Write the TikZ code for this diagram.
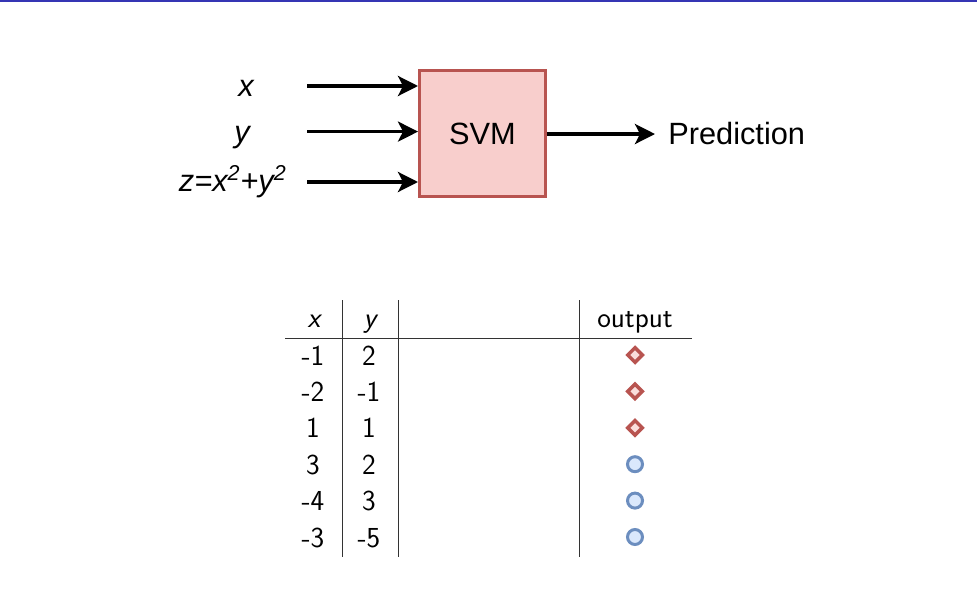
\documentclass[tikz,border=0pt]{standalone}
\usepackage{fontspec}
\newfontfamily\helv{Liberation Sans}
\usetikzlibrary{arrows.meta,shapes.geometric,positioning,calc}
\definecolor{svmfyll}{HTML}{F8CECC}
\definecolor{svmlinje}{HTML}{B85450}
\definecolor{blafyll}{HTML}{DAE8FC}
\definecolor{blalinje}{HTML}{6C8EBF}
\definecolor{topplinje}{HTML}{3535B4}
\tikzset{
  %Define standard arrow tip
  >={Stealth[length=0.4cm,width=0.4cm,inset=0.1cm]},
  %Define style for the SVM box
  boks/.style={
    rectangle,
    draw=svmlinje, fill=svmfyll, line width=0.06cm,
    minimum width=2.52cm,
    minimum height=2.52cm,
    font=\helv\fontsize{17.5}{20}\selectfont},
  % Define arrow style
  pil/.style={
    ->,
    line width=0.07cm},
  % labels round the box
  tekst/.style={font=\helv\itshape\fontsize{17.5}{20}\selectfont, inner sep=0pt, anchor=base},
  % table text
  celle/.style={font=\sffamily\fontsize{16.5}{19}\selectfont, inner sep=0pt, anchor=base},
  % output markers
  rombe/.style={diamond, draw=svmlinje, fill=svmfyll!70, line width=0.07cm, inner sep=0pt, minimum size=0.32cm},
  sirkel/.style={circle, draw=blalinje, fill=blafyll, line width=0.06cm, inner sep=0pt, minimum size=0.3cm}
}
\begin{document}
\begin{tikzpicture}[x=0.02cm,y=-0.02cm]
  \useasboundingbox (0,0) rectangle (977,608);
  \draw[topplinje, line width=0.04cm] (0,1) -- (977,1);
  % inputs, box and output
  \node[boks] (svm) at (482.5,133.5) {SVM};
  \node[tekst] (xlab) at (246,97) {x};
  \node[tekst] (ylab) at (242,143) {y};
  \node[tekst, anchor=base east] (zlab) at (287,192) {z=x\textsuperscript{2}+y\textsuperscript{2}};
  \coordinate (xin) at (307,86);
  \coordinate (yin) at (307,131.6);
  \coordinate (zin) at (307,182);
  \node[tekst, font=\helv\fontsize{17.5}{20}\selectfont, anchor=base west] (pred) at (668,145) {Prediction};
  \draw[pil] (xin) -- (xin -| svm.west);
  \draw[pil] (yin) -- (yin -| svm.west);
  \draw[pil] (zin) -- (zin -| svm.west);
  \draw[pil, shorten >=0.26cm] (svm.east |- pred.west) -- (pred.west);
  % table
  \draw[line width=0.02cm, black!80] (285,338) -- (692,338)
    (342,300) -- (342,557) (398,300) -- (398,557) (579,300) -- (579,557);
  \node[celle] (hx) at (314,327) {\itshape x};
  \node[celle] (hy) at (370,327) {\itshape y};
  \node[celle] (hout) at (635,327) {output};
  \foreach \xv/\yv/\m [count=\i] in {-1/2/rombe,-2/-1/rombe,1/1/rombe,3/2/sirkel,-4/3/sirkel,-3/-5/sirkel}{
    \node[celle] (x\i) at (313,{365+36.4*(\i-1)}) {\xv};
    \node[celle] (y\i) at (369,{365+36.4*(\i-1)}) {\yv};
    \node[\m] (o\i) at (635,{355+36.4*(\i-1)}) {};
  }
\end{tikzpicture}
\end{document}
